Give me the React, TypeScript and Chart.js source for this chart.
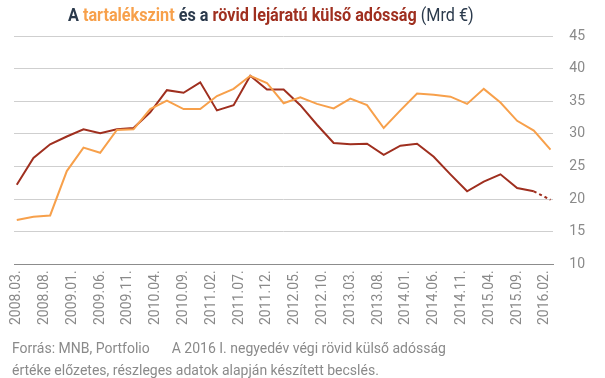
import React, { useEffect, useRef } from "react";
import { Chart, registerables } from "chart.js";

Chart.register(...registerables);

// Monthly category axis 2008.03 – 2016.03 (labels shown every 5 months)
const startYear = 2008;
const startMonth = 3;
const monthCount = 97;
const months: string[] = [];
for (let i = 0; i < monthCount; i++) {
  const m = startMonth - 1 + i;
  const y = startYear + Math.floor(m / 12);
  const mm = (m % 12) + 1;
  months.push(`${y}.${mm < 10 ? "0" + mm : mm}.`);
}

// Quarterly observation dates
const quarters: string[] = [];
for (let i = 0; i < monthCount; i += 3) quarters.push(months[i]);

// Tartalékszint (Mrd €)
const reserves = [
  16.8, 17.3, 17.5, 24.3, 27.9, 27.1, 30.6, 30.7, 33.8, 35.1, 33.8, 33.8, 35.8,
  36.9, 38.9, 37.8, 34.7, 35.6, 34.6, 33.9, 35.4, 34.4, 30.9, 33.6, 36.2, 36.0,
  35.7, 34.6, 36.9, 34.8, 32.0, 30.5, 27.6,
];

// Rövid lejáratú külső adósság (Mrd €)
const shortDebt = [
  22.2, 26.3, 28.4, 29.6, 30.7, 30.1, 30.7, 30.9, 33.3, 36.7, 36.3, 37.9, 33.6,
  34.4, 38.9, 36.8, 36.8, 34.4, 31.4, 28.6, 28.4, 28.5, 26.8, 28.2, 28.5, 26.5,
  23.8, 21.2, 22.7, 23.8, 21.7, 21.2, 19.9,
];

const yTicks = [10, 15, 20, 25, 30, 35, 40, 45];

const ORANGE = "#f7a04b";
const DARKRED = "#9f2f1f";

export default function App() {
  const ref = useRef<HTMLCanvasElement | null>(null);

  useEffect(() => {
    if (!ref.current) return;
    const lastIdx = shortDebt.length - 1;
    const chart = new Chart(ref.current, {
      type: "line",
      data: {
        labels: months,
        datasets: [
          {
            label: "tartalékszint",
            data: quarters.map((q, i) => ({ x: q, y: reserves[i] })),
            borderColor: ORANGE,
            borderWidth: 2,
            pointRadius: 0,
            tension: 0,
            fill: false,
          },
          {
            label: "rövid lejáratú külső adósság",
            data: quarters.map((q, i) => ({ x: q, y: shortDebt[i] })),
            borderColor: DARKRED,
            borderWidth: 2,
            pointRadius: 0,
            tension: 0,
            fill: false,
            segment: {
              borderDash: (ctx: any) =>
                ctx.p1DataIndex === lastIdx ? [3, 3] : undefined,
            },
          },
        ],
      },
      options: {
        animation: false,
        responsive: false,
        maintainAspectRatio: false,
        layout: { padding: { left: 14, right: 4, top: 36, bottom: 47 } },
        plugins: {
          legend: { display: false },
          tooltip: { enabled: false },
          title: { display: false },
        },
        scales: {
          x: {
            type: "category",
            offset: true,
            grid: { display: false, drawTicks: false },
            border: { display: true, color: "#8c8c8c", width: 1 },
            ticks: {
              autoSkip: false,
              maxRotation: 90,
              minRotation: 90,
              padding: 6,
              color: "#8a8a8a",
              font: { family: "Roboto", size: 14 },
              callback: (_v: any, i: number) => (i % 5 === 0 && i < 96 ? months[i] : ""),
            },
          },
          y: {
            position: "right",
            min: 10,
            max: 45,
            afterBuildTicks: (axis: any) => {
              axis.ticks = yTicks.map((v) => ({ value: v }));
            },
            grid: { color: "#cfcfcf", lineWidth: 1, drawTicks: false },
            border: { display: false },
            ticks: {
              padding: 16,
              color: "#8a8a8a",
              font: { family: "Roboto", size: 14 },
            },
          },
        },
      },
    });
    return () => chart.destroy();
  }, []);

  return (
    <div style={{ position: "absolute", left: 0, top: 0, width: 605, height: 378, background: "#fff", fontFamily: "Roboto" }}>
      <canvas ref={ref} width={605} height={378} style={{ position: "absolute", left: 0, top: 0 }} />
      <div
        style={{
          position: "absolute",
          left: 68,
          top: 4,
          whiteSpace: "nowrap",
          fontSize: 18,
          fontWeight: 700,
          color: "#2b3a4c",
          transformOrigin: "0 0",
          transform: "scaleX(0.9)",
          lineHeight: "22px",
        }}
      >
        A <span style={{ color: ORANGE }}>tartalékszint</span> és a{" "}
        <span style={{ color: DARKRED }}>rövid lejáratú külső adósság</span>{" "}
        <span style={{ fontWeight: 400 }}>(Mrd €)</span>
      </div>
      <div
        style={{
          position: "absolute",
          left: 12,
          top: 337,
          fontSize: 14,
          color: "#8a8a8a",
          lineHeight: "22px",
          whiteSpace: "nowrap",
        }}
      >
        <div>
          Forrás: MNB, Portfolio<span style={{ display: "inline-block", width: 22 }} />A 2016 I. negyedév végi rövid külső adósság
        </div>
        <div>értéke előzetes, részleges adatok alapján készített becslés.</div>
      </div>
    </div>
  );
}
